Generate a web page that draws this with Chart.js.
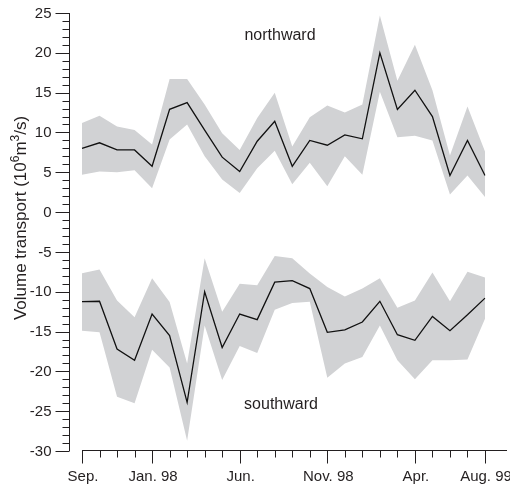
<!DOCTYPE html>
<html><head><meta charset="utf-8">
<script src="https://cdn.jsdelivr.net/npm/chart.js@4/dist/chart.umd.min.js"></script>
<style>html,body{margin:0;padding:0;background:#fff}#wrap{position:relative;width:510px;height:484px}</style>
</head><body><div id="wrap"><canvas id="c" width="510" height="484"></canvas></div>
<script>
// ---- data ----
const months = ['Sep. 97','Oct. 97','Nov. 97','Dec. 97','Jan. 98','Feb. 98','Mar. 98','Apr. 98','May 98','Jun. 98','Jul. 98','Aug. 98',
                'Sep. 98','Oct. 98','Nov. 98','Dec. 98','Jan. 99','Feb. 99','Mar. 99','Apr. 99','May 99','Jun. 99','Jul. 99','Aug. 99'];
const northMean  = [8.0, 8.7, 7.8, 7.8, 5.75, 12.9, 13.75, 10.3, 6.9, 5.1, 8.9, 11.4, 5.75, 9.0, 8.4, 9.7, 9.2, 20.0, 12.9, 15.3, 12.0, 4.6, 9.0, 4.6];
const northUpper = [11.2, 12.1, 10.75, 10.3, 8.5, 16.7, 16.7, 13.5, 9.9, 7.8, 11.8, 15.0, 8.25, 11.9, 13.4, 12.5, 13.5, 24.7, 16.5, 21.0, 15.3, 7.1, 13.25, 7.6];
const northLower = [4.7, 5.1, 5.0, 5.25, 3.0, 9.1, 11.0, 7.0, 4.1, 2.4, 5.5, 7.7, 3.5, 6.2, 3.25, 7.0, 4.7, 15.1, 9.4, 9.6, 9.0, 2.2, 4.6, 1.9];
const southMean  = [-11.25, -11.2, -17.2, -18.6, -12.8, -15.5, -23.9, -10.0, -17.0, -12.8, -13.5, -8.8, -8.6, -9.6, -15.1, -14.8, -13.8, -11.2, -15.4, -16.1, -13.1, -14.9, -12.9, -10.8];
const southUpper = [-7.67, -7.2, -11.1, -13.2, -8.3, -11.3, -19.0, -5.8, -12.5, -9.0, -9.2, -5.5, -5.8, -7.7, -9.4, -10.6, -9.6, -8.3, -12.0, -11.1, -7.6, -11.2, -7.5, -8.2];
const southLower = [-14.9, -15.1, -23.2, -24.0, -17.3, -19.5, -28.7, -14.25, -21.1, -16.8, -17.7, -12.25, -11.4, -11.25, -20.8, -19.0, -18.2, -14.25, -18.6, -21.0, -18.6, -18.6, -18.5, -13.4];
const yTickValues = [-30, -25, -20, -15, -10, -5, 0, 5, 10, 15, 20, 25];
const yTickLabels = ['-30', '-25', '-20', '-15', '-10', '-5', '0', '5', '10', '15', '20', '25'];
const xTickIndex  = [0, 4, 9, 14, 19, 23];
const xTickLabels = ['Sep.', 'Jan. 98', 'Jun.', 'Nov. 98', 'Apr.', 'Aug. 99'];
const seriesNames = ['northward', 'southward'];

// ---- style ----
const FONT = '"Liberation Sans", Arial, Helvetica, sans-serif';
const INK = '#231f20';
const BAND = '#d1d2d4';

const axesPlugin = {
  id: 'customAxes',
  afterDraw(chart) {
    const ctx = chart.ctx, xs = chart.scales.x, ys = chart.scales.y, a = chart.chartArea;
    ctx.save();
    ctx.strokeStyle = INK; ctx.fillStyle = INK; ctx.lineWidth = 1;
    // y axis
    const ax = Math.round(a.left - 13) + 0.5;
    const yTop = ys.getPixelForValue(ys.max), yBot = ys.getPixelForValue(ys.min);
    ctx.beginPath(); ctx.moveTo(ax, yTop); ctx.lineTo(ax, yBot); ctx.stroke();
    for (let v = ys.min; v <= ys.max; v += 1) {
      const py = Math.round(ys.getPixelForValue(v)) + 0.5;
      const major = yTickValues.includes(v);
      ctx.beginPath(); ctx.moveTo(ax, py); ctx.lineTo(ax - (major ? 14 : 7), py); ctx.stroke();
    }
    ctx.font = '15px ' + FONT; ctx.textAlign = 'right'; ctx.textBaseline = 'middle';
    yTickValues.forEach((v, i) => ctx.fillText(yTickLabels[i], ax - 18, ys.getPixelForValue(v) + 0.5));
    // x axis
    const by = Math.round(a.bottom) - 0.5;
    ctx.beginPath(); ctx.moveTo(a.left, by); ctx.lineTo(a.right + 22, by); ctx.stroke();
    months.forEach((m, i) => {
      const px = Math.round(xs.getPixelForValue(i)) + 0.5;
      const major = xTickIndex.includes(i);
      ctx.beginPath(); ctx.moveTo(px, by); ctx.lineTo(px, by + (major ? 13 : 7)); ctx.stroke();
    });
    ctx.textAlign = 'center'; ctx.textBaseline = 'alphabetic';
    xTickIndex.forEach((idx, i) => ctx.fillText(xTickLabels[i], xs.getPixelForValue(idx) + 1, a.bottom + 30));
    // series annotations
    ctx.font = '16px ' + FONT; ctx.textBaseline = 'middle';
    ctx.fillText(seriesNames[0], 280, 36);
    ctx.fillText(seriesNames[1], 281, 405);
    // y title
    ctx.translate(26, 218); ctx.rotate(-Math.PI / 2);
    const big = '17px ' + FONT, small = '12px ' + FONT;
    const parts = [['Volume transport (10', big, 0], ['6', small, -7], ['m', big, 0], ['3', small, -7], ['/s)', big, 0]];
    let total = 0;
    parts.forEach(p => { ctx.font = p[1]; total += ctx.measureText(p[0]).width; });
    let x = -total / 2;
    ctx.textAlign = 'left'; ctx.textBaseline = 'alphabetic';
    parts.forEach(p => { ctx.font = p[1]; ctx.fillText(p[0], x, p[2]); x += ctx.measureText(p[0]).width; });
    ctx.restore();
  }
};

const lineStyle = { borderColor: '#111', borderWidth: 1.3, pointRadius: 0, fill: false, tension: 0 };
const edgeStyle = { borderColor: 'rgba(0,0,0,0)', borderWidth: 0, pointRadius: 0, tension: 0, backgroundColor: BAND };

new Chart(document.getElementById('c'), {
  type: 'line',
  data: {
    labels: months,
    datasets: [
      Object.assign({ label: seriesNames[0], data: northMean }, lineStyle),
      Object.assign({ label: seriesNames[1], data: southMean }, lineStyle),
      Object.assign({ label: 'northward upper', data: northUpper, fill: false }, edgeStyle),
      Object.assign({ label: 'northward lower', data: northLower, fill: 2 }, edgeStyle),
      Object.assign({ label: 'southward upper', data: southUpper, fill: false }, edgeStyle),
      Object.assign({ label: 'southward lower', data: southLower, fill: 4 }, edgeStyle)
    ]
  },
  options: {
    responsive: false,
    animation: false,
    devicePixelRatio: 1,
    layout: { padding: { left: 82, right: 25, top: 13, bottom: 33 } },
    scales: {
      x: { type: 'category', display: false, offset: false },
      y: { type: 'linear', display: false, min: -30, max: 25 }
    },
    plugins: {
      legend: { display: false },
      tooltip: { enabled: false },
      filler: { drawTime: 'beforeDatasetsDraw' }
    }
  },
  plugins: [axesPlugin]
});
</script>
</body></html>
